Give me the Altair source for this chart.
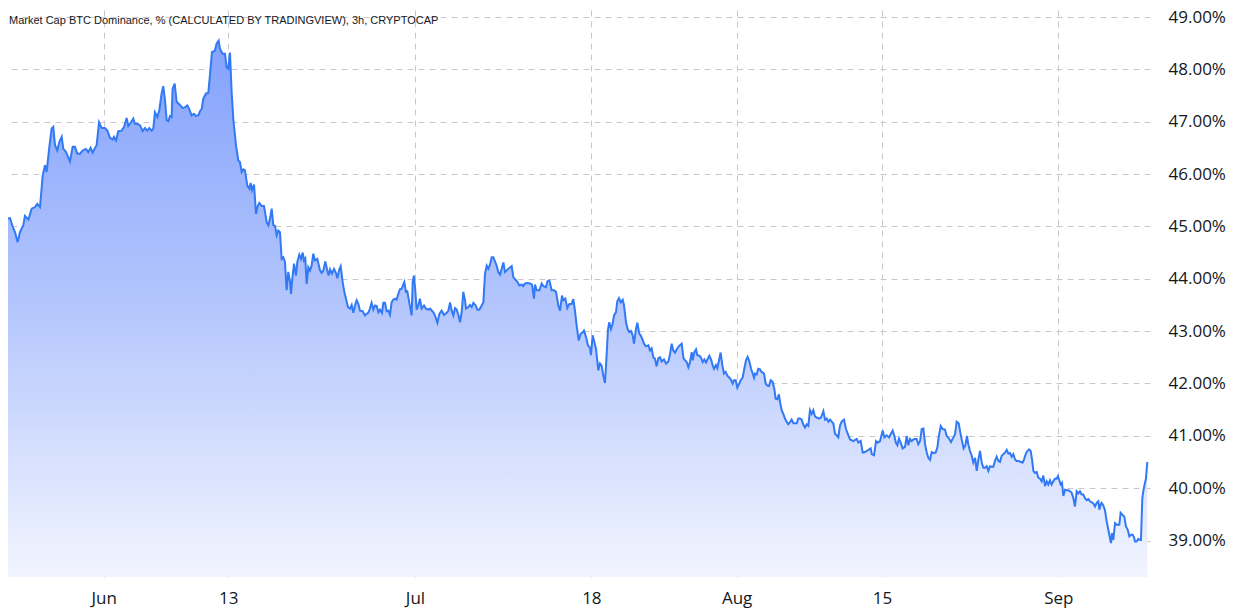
import altair as alt
import pandas as pd

# Day offsets from 2022-06-01 00:00 UTC (3h series) and BTC dominance (%)
days_late_may_jun = [-9.83, -9.61, -9.29, -9.03, -8.71, -8.55, -8.29, -8.07, -7.75, -7.59, -7.26, -6.94, -6.62, -6.40, -6.14, -5.88, -5.66, -5.50, -5.24, -5.02, -4.86, -4.69, -4.47, -4.28, -4.05, -3.89, -3.63, -3.41, -3.25, -2.99, -2.77, -2.54, -2.29, -2.03, -1.71, -1.48, -1.26, -1.06, -0.84, -0.68, -0.45, -0.20, 0.12, 0.35, 0.61, 0.86, 0.99, 1.18, 1.41, 1.73, 1.96, 2.21, 2.37, 2.60, 2.85, 3.01, 3.24, 3.50, 3.75, 3.98, 4.20, 4.40, 4.62, 4.78, 4.94, 5.17, 5.36, 5.58, 5.74, 5.91, 6.07, 6.23, 6.39, 6.55, 6.64, 6.84, 7.03, 7.35, 7.61, 7.83, 8.06, 8.25, 8.47, 8.70, 8.89, 9.12, 9.28, 9.44, 9.60, 9.86, 10.08, 10.24, 10.43, 10.72, 10.88, 11.08, 11.21, 11.46, 11.69, 11.85, 12.01, 12.17, 12.33, 12.49, 12.75, 12.97, 13.13]
vals_late_may_jun = [44.92, 44.99, 45.15, 45.16, 44.96, 44.89, 44.70, 44.89, 45.02, 45.20, 45.13, 45.34, 45.37, 45.43, 45.37, 45.97, 46.17, 46.04, 46.52, 46.87, 46.90, 46.55, 46.45, 46.61, 46.71, 46.48, 46.42, 46.32, 46.24, 46.52, 46.52, 46.39, 46.39, 46.45, 46.48, 46.42, 46.50, 46.41, 46.50, 46.55, 46.99, 46.88, 46.88, 46.83, 46.69, 46.66, 46.71, 46.64, 46.82, 46.83, 46.90, 47.07, 46.92, 46.98, 47.06, 46.96, 46.96, 46.93, 46.82, 46.88, 46.83, 46.88, 46.83, 46.87, 47.18, 47.09, 47.22, 47.54, 47.68, 47.41, 47.03, 47.01, 47.11, 47.09, 47.63, 47.73, 47.38, 47.32, 47.26, 47.28, 47.31, 47.24, 47.12, 47.15, 47.11, 47.12, 47.20, 47.24, 47.44, 47.54, 47.55, 47.89, 48.33, 48.36, 48.49, 48.55, 48.39, 48.30, 48.30, 48.04, 48.01, 48.32, 47.57, 47.06, 46.55, 46.26, 46.23]

days_jun_jul = [13.30, 13.46, 13.62, 13.84, 14.04, 14.16, 14.29, 14.49, 14.68, 14.81, 15.00, 15.22, 15.45, 15.71, 15.87, 16.03, 16.19, 16.35, 16.51, 16.67, 16.83, 16.99, 17.15, 17.31, 17.47, 17.63, 17.79, 17.96, 18.05, 18.21, 18.34, 18.53, 18.66, 18.85, 19.02, 19.18, 19.30, 19.43, 19.56, 19.72, 19.88, 20.04, 20.20, 20.36, 20.59, 20.85, 21.01, 21.17, 21.36, 21.55, 21.68, 21.81, 22.00, 22.20, 22.39, 22.52, 22.71, 22.84, 23.03, 23.19, 23.35, 23.54, 23.74, 23.90, 24.06, 24.22, 24.38, 24.54, 24.70, 24.96, 25.18, 25.34, 25.50, 25.66, 25.82, 25.99, 26.15, 26.31, 26.47, 26.63, 26.82, 26.95, 27.11, 27.27, 27.43, 27.59, 27.75, 27.91, 28.07, 28.23, 28.39, 28.55, 28.72, 28.88, 28.97, 29.13, 29.26, 29.45, 29.68, 29.78, 29.90, 30.03, 30.16, 30.32, 30.48, 30.64, 30.87, 31.06, 31.29, 31.45]
vals_jun_jul = [46.04, 46.09, 46.07, 45.78, 45.72, 45.83, 45.69, 45.80, 45.24, 45.37, 45.45, 45.39, 45.39, 45.08, 45.02, 45.15, 45.34, 45.02, 45.01, 44.83, 44.92, 44.89, 44.38, 44.41, 44.32, 43.78, 44.13, 43.94, 43.71, 44.06, 44.29, 44.06, 44.32, 44.46, 44.38, 44.50, 44.35, 44.39, 43.90, 44.22, 44.16, 44.25, 44.48, 44.35, 44.38, 44.16, 44.11, 44.16, 44.33, 44.16, 44.06, 44.18, 44.10, 44.19, 44.11, 44.01, 44.18, 44.24, 43.94, 43.75, 43.62, 43.46, 43.43, 43.50, 43.35, 43.49, 43.59, 43.52, 43.39, 43.38, 43.30, 43.33, 43.35, 43.43, 43.54, 43.41, 43.49, 43.48, 43.36, 43.41, 43.35, 43.54, 43.54, 43.38, 43.39, 43.31, 43.55, 43.60, 43.62, 43.60, 43.71, 43.80, 43.81, 43.90, 43.94, 43.75, 43.76, 43.55, 43.30, 43.94, 44.06, 43.78, 43.41, 43.49, 43.62, 43.43, 43.49, 43.43, 43.41, 43.43]

days_jul = [31.77, 31.93, 32.16, 32.35, 32.57, 32.80, 33.06, 33.22, 33.38, 33.54, 33.70, 33.86, 34.02, 34.18, 34.34, 34.50, 34.66, 34.82, 34.92, 35.14, 35.30, 35.47, 35.63, 35.85, 36.01, 36.20, 36.43, 36.59, 36.75, 36.91, 37.07, 37.23, 37.39, 37.55, 37.71, 37.87, 38.03, 38.20, 38.36, 38.52, 38.68, 38.84, 39.06, 39.32, 39.48, 39.64, 39.87, 40.06, 40.28, 40.44, 40.60, 40.83, 41.09, 41.28, 41.47, 41.57, 41.73, 41.99, 42.21, 42.37, 42.63, 42.76, 42.95, 43.17, 43.40, 43.59, 43.82, 43.98, 44.17, 44.30, 44.49, 44.68, 44.88, 45.10, 45.26, 45.42, 45.58, 45.78, 45.97, 46.16, 46.29, 46.48, 46.67, 46.87, 46.96, 47.12, 47.25, 47.45, 47.67, 47.83, 47.99, 48.15, 48.31, 48.47, 48.60, 48.73, 48.89, 49.05, 49.18, 49.37, 49.50, 49.66, 49.82, 50.02, 50.14, 50.34, 50.50, 50.66, 50.82, 50.98, 51.11, 51.30, 51.43, 51.62, 51.75, 51.91, 52.07, 52.26, 52.49, 52.65, 52.81, 52.97, 53.13, 53.29, 53.45, 53.61]
vals_jul = [43.36, 43.30, 43.16, 43.33, 43.39, 43.31, 43.35, 43.39, 43.55, 43.39, 43.30, 43.44, 43.41, 43.31, 43.17, 43.36, 43.75, 43.59, 43.43, 43.46, 43.50, 43.46, 43.54, 43.49, 43.41, 43.41, 43.49, 43.55, 44.10, 44.25, 44.19, 44.27, 44.41, 44.41, 44.33, 44.25, 44.13, 44.08, 44.19, 44.31, 44.13, 44.16, 44.20, 44.24, 44.03, 43.99, 43.94, 43.87, 43.89, 43.86, 43.91, 43.92, 43.91, 43.89, 43.62, 43.89, 43.78, 43.78, 43.91, 43.86, 43.84, 43.95, 43.97, 43.78, 43.78, 43.75, 43.49, 43.39, 43.68, 43.59, 43.62, 43.44, 43.52, 43.52, 43.61, 43.39, 43.11, 42.82, 42.95, 42.98, 43.01, 42.89, 42.73, 42.68, 42.54, 42.92, 42.82, 42.66, 42.25, 42.38, 42.34, 42.15, 42.01, 42.54, 43.03, 43.17, 43.04, 43.14, 43.30, 43.36, 43.57, 43.63, 43.55, 43.60, 43.50, 43.17, 43.04, 42.98, 43.00, 42.92, 42.76, 43.04, 43.16, 42.95, 42.92, 42.85, 42.76, 42.71, 42.73, 42.63, 42.67, 42.50, 42.47, 42.33, 42.48, 42.50]

days_jul_aug = [53.78, 54.00, 54.20, 54.42, 54.58, 54.74, 54.90, 55.06, 55.22, 55.38, 55.54, 55.71, 55.87, 56.03, 56.19, 56.35, 56.51, 56.67, 56.77, 56.93, 57.09, 57.21, 57.41, 57.57, 57.73, 57.89, 58.05, 58.21, 58.37, 58.53, 58.69, 58.82, 59.01, 59.14, 59.30, 59.46, 59.62, 59.78, 59.94, 60.11, 60.30, 60.43, 60.62, 60.75, 60.91, 61.07, 61.26, 61.39, 61.58, 61.74, 61.90, 62.06, 62.23, 62.39, 62.55, 62.68, 62.77, 62.93, 63.09, 63.25, 63.41, 63.64, 63.80, 63.96, 64.12, 64.28, 64.47, 64.63, 64.76, 64.92, 65.08, 65.18, 65.34, 65.50, 65.66, 65.82, 65.98, 66.14, 66.30, 66.47, 66.63, 66.79, 66.95, 67.11, 67.27, 67.43, 67.59, 67.75, 67.91, 68.07, 68.23, 68.39, 68.55, 68.71, 68.94, 69.13, 69.36, 69.52, 69.68, 69.84, 70.00, 70.16, 70.32, 70.48, 70.64, 70.80, 70.96, 71.12, 71.35, 71.54, 71.77, 71.93]
vals_jul_aug = [42.42, 42.46, 42.38, 42.42, 42.56, 42.76, 42.63, 42.59, 42.65, 42.70, 42.73, 42.76, 42.49, 42.44, 42.41, 42.31, 42.41, 42.60, 42.44, 42.60, 42.65, 42.54, 42.53, 42.49, 42.41, 42.46, 42.40, 42.47, 42.53, 42.46, 42.35, 42.28, 42.35, 42.29, 42.44, 42.59, 42.35, 42.19, 42.22, 42.15, 42.11, 42.08, 42.00, 42.06, 42.06, 41.92, 42.00, 42.06, 42.11, 42.28, 42.44, 42.51, 42.42, 42.28, 42.19, 42.11, 42.19, 42.17, 42.28, 42.27, 42.22, 42.19, 42.00, 41.96, 41.95, 42.06, 42.03, 41.90, 41.71, 41.70, 41.79, 41.65, 41.49, 41.42, 41.33, 41.27, 41.22, 41.26, 41.31, 41.24, 41.24, 41.24, 41.33, 41.33, 41.31, 41.21, 41.16, 41.22, 41.19, 41.49, 41.42, 41.49, 41.37, 41.35, 41.33, 41.35, 41.47, 41.31, 41.33, 41.27, 41.31, 41.27, 41.24, 41.04, 41.01, 40.97, 41.19, 41.27, 41.31, 41.13, 41.01, 40.93]

days_aug_sep = [72.25, 72.57, 72.73, 72.96, 73.15, 73.38, 73.70, 73.92, 74.02, 74.24, 74.44, 74.60, 74.82, 75.08, 75.24, 75.46, 75.69, 75.85, 76.04, 76.20, 76.36, 76.49, 76.65, 76.81, 77.00, 77.23, 77.39, 77.55, 77.71, 77.87, 78.10, 78.35, 78.51, 78.68, 78.84, 79.00, 79.16, 79.32, 79.48, 79.64, 79.80, 79.96, 80.18, 80.35, 80.47, 80.67, 80.86, 81.08, 81.24, 81.50, 81.66, 81.89, 82.05, 82.21, 82.40, 82.56, 82.72, 82.88, 83.04, 83.20, 83.33, 83.49, 83.65, 83.81, 83.98, 84.14, 84.30, 84.46, 84.62, 84.78, 84.94, 85.10, 85.26, 85.42, 85.58, 85.74, 85.90, 86.06, 86.22, 86.38, 86.55, 86.71, 86.87, 87.03, 87.19, 87.35, 87.51, 87.67, 87.83, 87.99, 88.21, 88.38, 88.57, 88.70, 88.86, 89.02, 89.18, 89.34, 89.47, 89.60, 89.76, 89.92, 90.08, 90.24, 90.40, 90.56, 90.72, 90.88, 91.04, 91.20, 91.36, 91.52, 91.68, 91.84, 91.97, 92.10, 92.23, 92.36, 92.49, 92.65, 92.81, 92.97, 93.13, 93.29, 93.45, 93.61, 93.77, 93.93, 94.09, 94.25, 94.41, 94.57, 94.74, 94.90, 95.06, 95.22, 95.38, 95.54, 95.70, 95.86, 95.96, 96.09, 96.18, 96.34, 96.50, 96.66, 96.82, 96.98, 97.08, 97.18, 97.30, 97.47, 97.63, 97.88, 98.01, 98.20, 98.36, 98.52, 98.69, 98.85, 99.01, 99.17, 99.30, 99.39, 99.55, 99.71, 99.87, 99.97, 100.03, 100.10, 100.19, 100.32, 100.45, 100.58]
vals_aug_sep = [40.90, 40.94, 40.87, 40.90, 40.68, 40.69, 40.73, 40.76, 40.65, 40.63, 40.90, 40.87, 40.90, 41.10, 40.97, 41.01, 40.97, 41.03, 41.10, 41.00, 40.86, 40.82, 40.95, 40.87, 40.76, 40.79, 41.00, 40.82, 40.94, 40.90, 40.94, 40.94, 40.84, 40.90, 41.13, 41.14, 40.84, 40.68, 40.58, 40.54, 40.69, 40.67, 40.68, 40.78, 40.97, 41.19, 41.13, 41.12, 41.00, 40.94, 40.88, 40.97, 41.03, 41.27, 41.24, 41.06, 40.90, 40.76, 40.81, 41.00, 40.84, 40.71, 40.63, 40.49, 40.58, 40.33, 40.55, 40.71, 40.49, 40.39, 40.39, 40.42, 40.33, 40.42, 40.41, 40.41, 40.52, 40.60, 40.52, 40.50, 40.62, 40.65, 40.68, 40.73, 40.66, 40.67, 40.60, 40.65, 40.55, 40.52, 40.52, 40.50, 40.49, 40.55, 40.65, 40.71, 40.74, 40.71, 40.55, 40.33, 40.29, 40.31, 40.20, 40.18, 40.13, 40.24, 40.04, 40.13, 40.07, 40.15, 40.07, 40.13, 40.18, 40.18, 40.23, 40.15, 40.07, 40.10, 39.85, 39.97, 39.96, 39.96, 39.94, 39.91, 39.81, 39.65, 39.94, 39.90, 39.94, 39.88, 39.88, 39.81, 39.77, 39.79, 39.75, 39.73, 39.71, 39.65, 39.72, 39.75, 39.59, 39.69, 39.72, 39.67, 39.58, 39.37, 39.21, 39.04, 38.95, 39.14, 39.01, 39.33, 39.30, 39.30, 39.53, 39.49, 39.46, 39.27, 39.21, 39.08, 39.11, 39.11, 39.06, 38.98, 38.98, 39.03, 39.01, 39.01, 39.40, 39.81, 39.94, 40.07, 40.18, 40.50]

title_text = "Market Cap BTC Dominance, % (CALCULATED BY TRADINGVIEW), 3h, CRYPTOCAP"
x_tick_dates = ["2022-06-01", "2022-06-13", "2022-07-01", "2022-07-18", "2022-08-01", "2022-08-15", "2022-09-01"]
y_ticks = [39, 40, 41, 42, 43, 44, 45, 46, 47, 48, 49]

days = days_late_may_jun + days_jun_jul + days_jul + days_jul_aug + days_aug_sep
vals = vals_late_may_jun + vals_jun_jul + vals_jul + vals_jul_aug + vals_aug_sep

base = pd.Timestamp("2022-06-01", tz="UTC")
times = base + pd.to_timedelta(days, unit="D")
df = pd.DataFrame({
    "time": times.strftime("%Y-%m-%dT%H:%M:%SZ"),
    "value": vals,
})


def ms(ts):
    return int(ts.value // 10**6)


x_domain = [ms(base + pd.to_timedelta(-9.223, unit="D")), ms(base + pd.to_timedelta(100.84, unit="D"))]
x_values = [ms(pd.Timestamp(d, tz="UTC")) for d in x_tick_dates]

W, H = 1142, 567
TEXT = "#131722"
GRID = "#c8c8cc"
LINE = "#3179f5"
FONT = "Open Sans"

x_enc = alt.X(
    "time:T",
    scale=alt.Scale(type="utc", domain=x_domain, nice=False),
    axis=alt.Axis(
        title=None, values=x_values, grid=True, gridColor=GRID, gridDash=[6, 5], gridWidth=1,
        domain=False, ticks=False, tickSize=0, labelPadding=13, labelBaseline="top",
        labelFont=FONT, labelFontSize=17, labelColor=TEXT, labelFlush=False, labelOverlap=False,
        labelExpr="utcFormat(datum.value, '%d') == '01' ? utcFormat(datum.value, '%b') : utcFormat(datum.value, '%-d')",
    ),
)
y_enc = alt.Y(
    "value:Q",
    stack=None,
    scale=alt.Scale(domain=[38.303, 49.134], nice=False, zero=False),
    axis=alt.Axis(
        title=None, orient="right", values=y_ticks, grid=True, gridColor=GRID, gridDash=[6, 5], gridWidth=1,
        domain=False, ticks=False, tickSize=0, labelPadding=18, labelAlign="left", labelBaseline="middle",
        labelFont=FONT, labelFontSize=17, labelColor=TEXT, format=".2f", labelExpr="datum.label + '%'",
        labelOverlap=False, labelFlush=False,
    ),
)

area = alt.Chart(df).mark_area(
    clip=True,
    opacity=1,
    fillOpacity=1,
    fill=alt.Gradient(
        gradient="linear", x1=0, x2=0, y1=0, y2=1,
        stops=[alt.GradientStop(color="#84a2fc", offset=0),
               alt.GradientStop(color="#b4c6fc", offset=0.5),
               alt.GradientStop(color="#f2f5ff", offset=1)],
    ),
).encode(x=x_enc, y=y_enc, y2=alt.value(H))

line = alt.Chart(df).mark_line(clip=True, color=LINE, strokeWidth=2).encode(x="time:T", y="value:Q")

title = alt.Chart(pd.DataFrame({"t": [title_text]})).mark_text(
    align="left", baseline="middle", font="Liberation Sans", fontSize=11, color=TEXT
).encode(text="t:N", x=alt.value(1), y=alt.value(11))

chart = alt.layer(area, line, title).properties(
    width=W, height=H, padding={"left": 0, "top": 0, "right": 0, "bottom": 2}, background="white"
).configure_view(stroke=None)

chart.save("out.html", embed_options={"renderer": "svg", "actions": False})
